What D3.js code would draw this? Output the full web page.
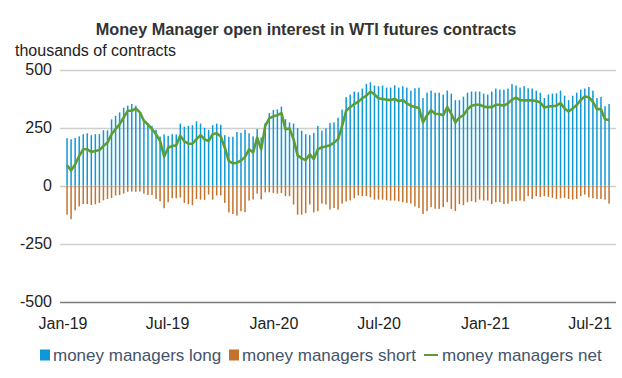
<!DOCTYPE html>
<html>
<head>
<meta charset="utf-8">
<script src="https://cdn.jsdelivr.net/npm/d3@7"></script>
<style>
  body { margin: 0; background: #fff; }
  svg { display: block; font-family: "Liberation Sans", Arial, sans-serif; }
</style>
</head>
<body>
<svg id="chart" width="622" height="378"></svg>
<script>
// weekly CFTC reports, first one on 8 Jan 2019
const startDate = new Date(2019, 0, 8);

// money managers long, thousands of contracts
const longPos = [
  204, 199, 205, 212, 221, 225, 217, 221, 221, 238, 238, 285, 300, 315, 335, 344, 351, 344, 315, 286,
  264, 257, 240, 211, 220, 214, 221, 220, 267, 253, 257, 260, 277, 267, 249, 240, 260, 267, 262, 217,
  210, 210, 231, 227, 240, 225, 212, 243, 207, 269, 312, 325, 328, 340, 286, 272, 267, 247, 236, 221,
  217, 227, 257, 236, 246, 269, 272, 292, 327, 381, 392, 405, 402, 418, 438, 445, 431, 428, 431, 422,
  422, 432, 422, 428, 422, 409, 419, 422, 377, 400, 409, 400, 400, 392, 409, 396, 368, 368, 383, 400,
  405, 405, 405, 396, 392, 405, 418, 413, 413, 418, 437, 431, 422, 428, 419, 418, 409, 400, 377, 392,
  396, 397, 409, 387, 368, 387, 400, 413, 418, 425, 409, 377, 382, 342, 351
];

// money managers short (drawn below zero)
const shortPos = [
  126, 145, 107, 90, 80, 80, 84, 81, 75, 64, 58, 54, 43, 41, 35, 27, 26, 27, 26, 35,
  41, 41, 58, 68, 98, 72, 55, 55, 52, 75, 81, 85, 58, 61, 62, 39, 61, 43, 43, 75,
  116, 123, 130, 111, 115, 65, 60, 35, 60, 30, 29, 32, 35, 32, 46, 46, 82, 126, 126, 119,
  82, 116, 111, 78, 82, 104, 97, 104, 78, 69, 64, 55, 43, 46, 46, 51, 61, 61, 61, 64,
  65, 65, 68, 72, 75, 78, 90, 97, 123, 110, 93, 100, 101, 93, 72, 101, 110, 80, 85, 72,
  68, 72, 61, 65, 65, 80, 72, 72, 80, 78, 68, 68, 65, 68, 46, 58, 46, 49, 46, 49,
  53, 58, 55, 53, 58, 61, 58, 46, 39, 51, 55, 58, 58, 61, 78
];

// money managers net
const netPos = [
  87, 65, 91, 127, 156, 156, 145, 149, 153, 170, 185, 221, 243, 264, 293, 322, 322, 332, 315, 279,
  263, 243, 221, 192, 124, 163, 170, 173, 215, 190, 180, 180, 200, 217, 199, 192, 221, 225, 211, 163,
  105, 95, 98, 108, 123, 156, 142, 207, 156, 257, 289, 298, 303, 312, 243, 246, 199, 130, 117, 110,
  134, 114, 156, 165, 168, 173, 185, 199, 257, 322, 337, 351, 361, 376, 387, 405, 393, 376, 373, 370,
  368, 373, 363, 368, 354, 344, 338, 334, 272, 303, 325, 309, 308, 303, 338, 309, 272, 293, 303, 329,
  344, 348, 348, 340, 338, 338, 348, 348, 344, 354, 370, 379, 368, 367, 367, 367, 364, 358, 336, 341,
  342, 344, 355, 332, 319, 332, 347, 369, 384, 380, 361, 329, 329, 286, 282
];

const yTicks = [500, 250, 0, -250, -500];
const xTickDates = [
  new Date(2019, 0, 1), new Date(2019, 6, 1), new Date(2020, 0, 1),
  new Date(2020, 6, 1), new Date(2021, 0, 1), new Date(2021, 6, 1)
];
const legendItems = [
  { label: 'money managers long', kind: 'box', color: '#0f98d8' },
  { label: 'money managers short', kind: 'box', color: '#c4732e' },
  { label: 'money managers net', kind: 'line', color: '#5c9e34' }
];

const dates = longPos.map((d, i) => d3.timeWeek.offset(startDate, i));

const svg = d3.select('#chart');
const left = 60, right = 616;

const x = d3.scaleTime()
  .domain([xTickDates[0], xTickDates[xTickDates.length - 1]])
  .range([63, 590]);
const y = d3.scaleLinear().domain([-500, 500]).range([301.5, 69.5]);

// title + unit
svg.append('text')
  .attr('x', 306).attr('y', 35)
  .attr('text-anchor', 'middle')
  .attr('font-size', 16.3).attr('font-weight', 'bold').attr('fill', '#333')
  .text('Money Manager open interest in WTI futures contracts');
svg.append('text')
  .attr('x', 15).attr('y', 56)
  .attr('font-size', 16).attr('fill', '#222')
  .text('thousands of contracts');

// gridlines
svg.append('g').selectAll('line').data(yTicks).enter().append('line')
  .attr('x1', left).attr('x2', right)
  .attr('y1', d => Math.round(y(d)) + 0.5).attr('y2', d => Math.round(y(d)) + 0.5)
  .attr('stroke', d => d === -500 ? '#7a7a7a' : '#cfcfcf')
  .attr('stroke-width', 1.3);

// y labels
svg.append('g').selectAll('text').data(yTicks).enter().append('text')
  .attr('x', 52).attr('y', d => y(d))
  .attr('dy', '0.36em')
  .attr('text-anchor', 'end')
  .attr('font-size', 16).attr('fill', '#222')
  .text(d => d);

// x labels
const fmt = d3.timeFormat('%b-%y');
svg.append('g').selectAll('text').data(xTickDates).enter().append('text')
  .attr('x', d => x(d)).attr('y', 329)
  .attr('text-anchor', 'middle')
  .attr('font-size', 16).attr('fill', '#222')
  .text(d => fmt(d));

const bw = 1.5;
// long bars
svg.append('g').selectAll('rect').data(longPos).enter().append('rect')
  .attr('x', (d, i) => x(dates[i]) - bw / 2)
  .attr('y', d => y(d))
  .attr('width', bw)
  .attr('height', d => y(0) - y(d))
  .attr('fill', '#0f98d8');

// short bars
svg.append('g').selectAll('rect').data(shortPos).enter().append('rect')
  .attr('x', (d, i) => x(dates[i]) - bw / 2)
  .attr('y', y(0))
  .attr('width', bw)
  .attr('height', d => y(-d) - y(0))
  .attr('fill', '#c4732e');

// net line
const line = d3.line()
  .x((d, i) => x(dates[i]))
  .y(d => y(d));
svg.append('path')
  .datum(netPos)
  .attr('d', line)
  .attr('fill', 'none')
  .attr('stroke', '#5c9e34')
  .attr('stroke-width', 2.6)
  .attr('stroke-linejoin', 'round');

// legend
const legendX = [40, 229, 424];
const lg = svg.append('g');
legendItems.forEach((it, i) => {
  const g = lg.append('g').attr('transform', `translate(${legendX[i]},355)`);
  if (it.kind === 'box') {
    g.append('rect').attr('x', 0).attr('y', -5.5).attr('width', 10).attr('height', 11).attr('fill', it.color);
    g.append('text').attr('x', 13).attr('y', 0).attr('dy', '0.36em')
      .attr('font-size', 17).attr('fill', '#44546a').text(it.label);
  } else {
    g.append('line').attr('x1', 0).attr('x2', 14).attr('y1', 0).attr('y2', 0)
      .attr('stroke', it.color).attr('stroke-width', 2);
    g.append('text').attr('x', 18).attr('y', 0).attr('dy', '0.36em')
      .attr('font-size', 17).attr('fill', '#44546a').text(it.label);
  }
});
</script>
</body>
</html>
